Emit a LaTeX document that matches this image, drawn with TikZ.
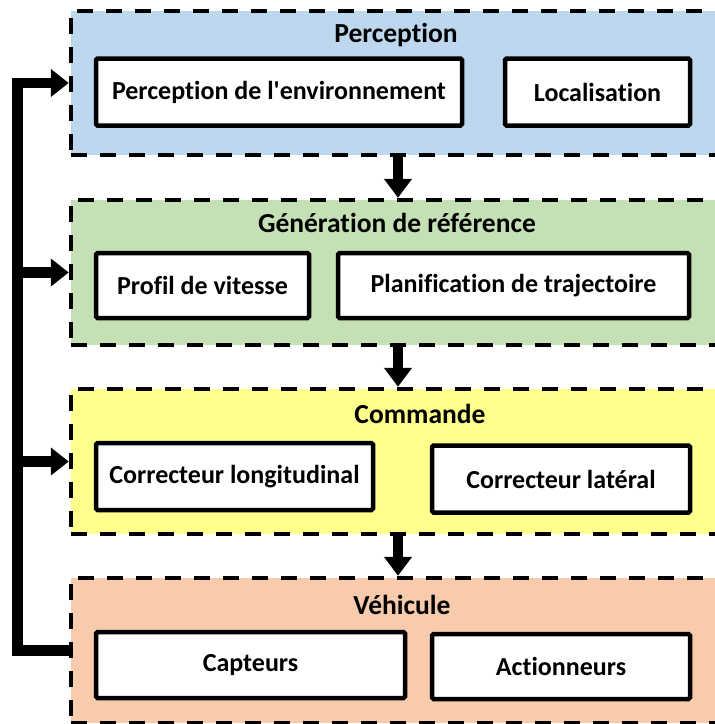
\documentclass[tikz,border=0pt]{standalone}
\usepackage{fontspec}
\setmainfont{Carlito}[Ligatures={TeXOff,NoCommon}]
\usetikzlibrary{arrows.meta,positioning}
\definecolor{percblue}{HTML}{BDD7EE}
\definecolor{refgreen}{HTML}{C5E0B4}
\definecolor{cmdyellow}{HTML}{FFFF8C}
\definecolor{vehorange}{HTML}{F8CBAD}
\newcommand{\boxfont}{\bfseries\fontsize{26}{30}\selectfont}
\newcommand{\titlefont}{\bfseries\fontsize{27.5}{32}\selectfont}

\begin{document}
\begin{tikzpicture}[x=1pt,y=-1pt,
    group/.style={draw,line width=4.5pt,dash pattern=on 16pt off 13pt,
      minimum width=664pt,minimum height=145pt,inner sep=0pt},
    block/.style={draw,line width=4.5pt,fill=white,rounded corners=1.5pt,
      minimum height=67pt,inner sep=0pt,font=\boxfont},
    title/.style={font=\titlefont},
    flow/.style={line width=10pt,-{Triangle[length=19pt,width=27pt]}},
    fb/.style={line width=10.5pt,line join=miter}]
  \useasboundingbox (0,0) rectangle (715,724);
  % stages
  \node[group,fill=percblue,minimum height=144pt] (perc) at (403,83) {};
  \node[group,fill=refgreen] (gen) at (403,272.5) {};
  \node[group,fill=cmdyellow] (cmd) at (403,461.5) {};
  \node[group,fill=vehorange] (veh) at (403,650.5) {};
  \node[title] (percT) at (396,35) {Perception};
  \node[title] (genT) at (397,223) {Génération de référence};
  \node[title] (cmdT) at (420,414) {Commande};
  \node[title] (vehT) at (402,605) {Véhicule};
  % blocks
  \node[block,minimum width=366pt] (env) at (279,92) {Perception de l'environnement};
  \node[block,minimum width=185pt] (loc) at (597.5,92) {Localisation};
  \node[block,minimum width=213pt,minimum height=65pt] (vit) at (202.5,285.5) {Profil de vitesse};
  \node[block,minimum width=351pt,minimum height=65pt] (traj) at (513.5,285.5) {Planification de trajectoire};
  \node[block,minimum width=277pt] (long) at (234.5,476.5) {Correcteur longitudinal};
  \node[block,minimum width=258pt] (lat) at (561,479) {Correcteur latéral};
  \node[block,minimum width=309pt,minimum height=66pt] (capt) at (250.5,665) {Capteurs};
  \node[block,minimum width=258pt,minimum height=65pt] (act) at (561,666.5) {Actionneurs};
  % flow between stages
  \draw[flow] ([xshift=-5pt]perc.south) -- ([xshift=-5pt]gen.north);
  \draw[flow] ([xshift=-5pt]gen.south) -- ([xshift=-5pt]cmd.north);
  \draw[flow] ([xshift=-5pt]cmd.south) -- ([xshift=-5pt]veh.north);
  % feedback
  \coordinate (spine) at (17.5,0);
  \draw[fb,-{Triangle[length=18pt,width=27pt]}] (veh.west) -| (spine |- perc.west) -- (perc.west);
  \draw[fb,-{Triangle[length=18pt,width=27pt]}] (spine |- gen.west) -- (gen.west);
  \draw[fb,-{Triangle[length=18pt,width=27pt]}] (spine |- cmd.west) -- (cmd.west);
\end{tikzpicture}
\end{document}
